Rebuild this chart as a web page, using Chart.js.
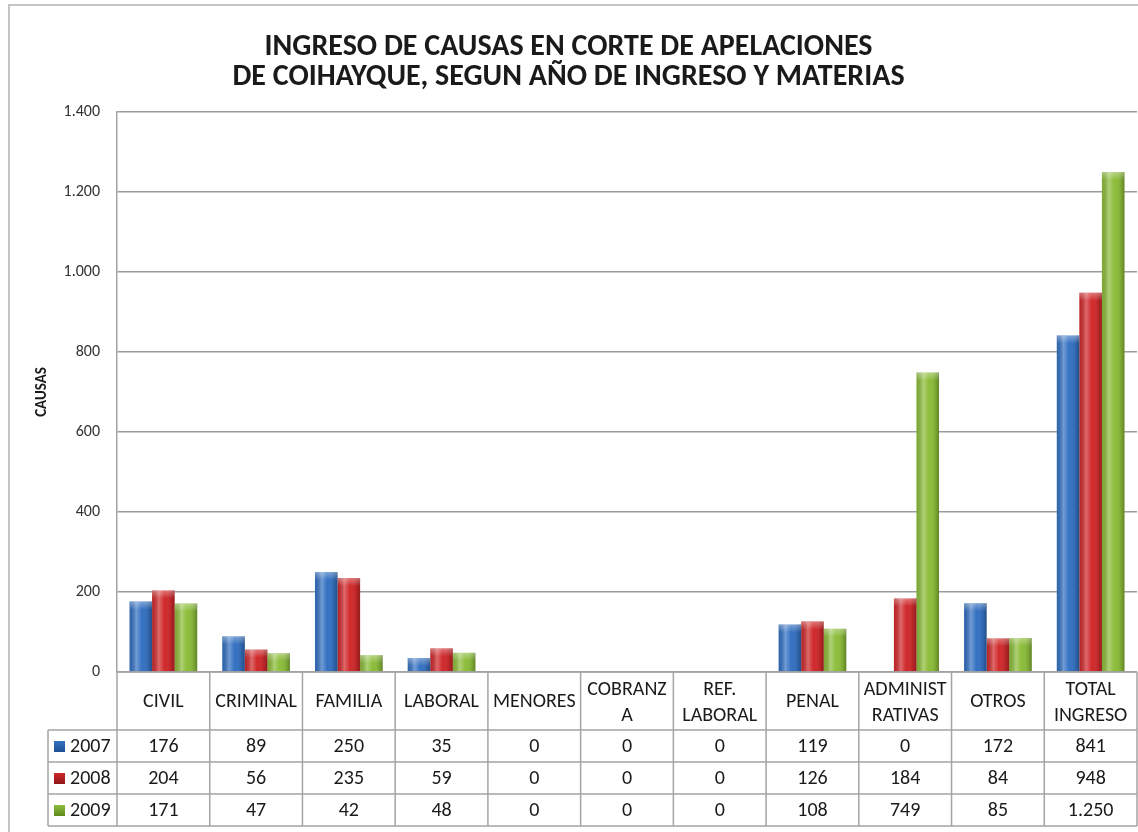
<!DOCTYPE html>
<html>
<head>
<meta charset="utf-8">
<script src="https://cdn.jsdelivr.net/npm/chart.js@4.4.0/dist/chart.umd.min.js"></script>
<style>
  html, body { margin: 0; padding: 0; background: #fff; }
  #wrap { width: 1138px; height: 832px; }
</style>
</head>
<body>
<div id="wrap"><canvas id="ingreso"></canvas></div>
<script>
// categorias (columnas de la tabla)
var materias = [["CIVIL"], ["CRIMINAL"], ["FAMILIA"], ["LABORAL"], ["MENORES"], ["COBRANZ", "A"],
                ["REF.", "LABORAL"], ["PENAL"], ["ADMINIST", "RATIVAS"], ["OTROS"], ["TOTAL", "INGRESO"]];
var anios = ["2007", "2008", "2009"];
var v2007 = [176, 89, 250, 35, 0, 0, 0, 119, 0, 172, 841];
var v2008 = [204, 56, 235, 59, 0, 0, 0, 126, 184, 84, 948];
var v2009 = [171, 47, 42, 48, 0, 0, 0, 108, 749, 85, 1250];
var yTicks = [0, 200, 400, 600, 800, 1000, 1200, 1400];

var colores = ["#3471c2", "#d0292b", "#8cbd3a"];
var oscuros = ["#1d4f91", "#8f1618", "#5f8a1f"];
var fuente = "Carlito, Calibri, Lato, 'Open Sans', sans-serif";

function miles(v) {
  return String(v).replace(/\B(?=(\d{3})+(?!\d))/g, ".");
}

// fondo y borde exterior
var fondo = {
  id: "fondo",
  beforeDraw: function(chart) {
    var c = chart.ctx;
    c.save();
    c.fillStyle = "#fff";
    c.fillRect(0, 0, chart.width, chart.height);
    c.strokeStyle = "#c4c4c4";
    c.lineWidth = 2;
    c.beginPath();
    c.moveTo(9, chart.height);
    c.lineTo(9, 5);
    c.lineTo(chart.width, 5);
    c.stroke();
    c.restore();
  }
};

// brillo tipo cilindro sobre cada barra
var brillo = {
  id: "brillo",
  afterDatasetsDraw: function(chart) {
    var c = chart.ctx;
    c.save();
    chart.data.datasets.forEach(function(ds, i) {
      var meta = chart.getDatasetMeta(i);
      meta.data.forEach(function(el) {
        var p = el.getProps(["x", "y", "base", "width"], true);
        var h = p.base - p.y;
        if (h < 1) return;
        var x0 = p.x - p.width / 2, x1 = p.x + p.width / 2;
        var g = c.createLinearGradient(x0, 0, x1, 0);
        g.addColorStop(0, "rgba(0,0,0,0.10)");
        g.addColorStop(0.3, "rgba(255,255,255,0.30)");
        g.addColorStop(0.55, "rgba(255,255,255,0.0)");
        g.addColorStop(0.85, "rgba(0,0,0,0.12)");
        g.addColorStop(1, "rgba(0,0,0,0.30)");
        c.fillStyle = g;
        c.fillRect(x0, p.y, p.width, h);
        // tapa superior
        var tg = c.createLinearGradient(0, p.y, 0, p.y + 8);
        tg.addColorStop(0, "rgba(255,255,255,0.35)");
        tg.addColorStop(1, "rgba(255,255,255,0)");
        c.fillStyle = tg;
        c.fillRect(x0, p.y, p.width, Math.min(8, h));
      });
    });
    c.restore();
  }
};

// tabla de datos bajo el eje
var tabla = {
  id: "tabla",
  afterDraw: function(chart) {
    var c = chart.ctx;
    var xs = chart.scales.x;
    var area = chart.chartArea;
    var n = materias.length;
    var w = (xs.right - xs.left) / n;
    var top = area.bottom;
    var headBottom = top + 58;
    var rowH = 32;
    var filas = [v2007, v2008, v2009];
    var bottom = headBottom + rowH * filas.length;
    var left0 = 48;

    c.save();
    c.strokeStyle = "#a4a4a4";
    c.lineWidth = 1.5;
    c.beginPath();
    // linea superior (eje)
    c.moveTo(xs.left, top); c.lineTo(xs.right, top);
    // lineas horizontales de filas
    for (var r = 0; r <= filas.length; r++) {
      var yy = headBottom + r * rowH;
      c.moveTo(left0, yy); c.lineTo(xs.right, yy);
    }
    // verticales
    for (var k = 0; k <= n; k++) {
      var xx = xs.left + k * w;
      c.moveTo(xx, top); c.lineTo(xx, bottom);
    }
    c.moveTo(left0, headBottom); c.lineTo(left0, bottom);
    c.stroke();

    c.fillStyle = "#1a1a1a";
    c.font = "20px " + fuente;
    c.textAlign = "center";
    c.textBaseline = "middle";
    // encabezados
    materias.forEach(function(lbl, i) {
      var cx = xs.getPixelForValue(i);
      var mid = (top + headBottom) / 2;
      if (lbl.length === 1) {
        c.fillText(lbl[0], cx, mid + 1);
      } else {
        c.fillText(lbl[0], cx, mid - 11);
        c.fillText(lbl[1], cx, mid + 15);
      }
    });
    // valores
    filas.forEach(function(fila, r) {
      var cy = headBottom + r * rowH + rowH / 2 + 1;
      fila.forEach(function(v, i) {
        c.fillText(miles(v), xs.getPixelForValue(i), cy);
      });
      // leyenda
      var sx = 54, sy = cy - 6;
      var g = c.createLinearGradient(sx, sy, sx, sy + 11);
      g.addColorStop(0, colores[r]);
      g.addColorStop(1, oscuros[r]);
      c.fillStyle = g;
      c.fillRect(sx, sy, 11, 11);
      c.fillStyle = "#1a1a1a";
      c.textAlign = "left";
      c.fillText(anios[r], 70, cy);
      c.textAlign = "center";
    });
    c.restore();
  }
};

var series = [v2007, v2008, v2009];
var datasets = series.map(function(vals, i) {
  return {
    label: anios[i],
    data: vals,
    backgroundColor: colores[i],
    borderWidth: 0,
    categoryPercentage: 0.73,
    barPercentage: 1.0
  };
});

new Chart(document.getElementById("ingreso"), {
  type: "bar",
  data: {
    labels: materias.map(function(m) { return m.join(" "); }),
    datasets: datasets
  },
  options: {
    responsive: true,
    maintainAspectRatio: false,
    animation: false,
    layout: { padding: { left: 0, right: 1, top: 0, bottom: 102 } },
    plugins: {
      legend: { display: false },
      tooltip: { enabled: false },
      title: {
        display: true,
        text: ["INGRESO DE CAUSAS EN CORTE DE APELACIONES", "DE COIHAYQUE, SEGUN AÑO DE INGRESO Y MATERIAS"],
        color: "#1a1a1a",
        font: { family: fuente, size: 30, weight: "bold", lineHeight: 1.0 },
        padding: { top: 32, bottom: 20 }
      }
    },
    scales: {
      x: {
        ticks: { display: false },
        grid: { display: false, drawTicks: false },
        border: { display: false },
        afterFit: function(scale) { scale.height = 58; }
      },
      y: {
        min: 0,
        max: 1400,
        afterBuildTicks: function(scale) {
          scale.ticks = yTicks.map(function(v) { return { value: v }; });
        },
        ticks: {
          color: "#333",
          font: { family: fuente, size: 16 },
          padding: 17,
          callback: function(v) { return miles(v); }
        },
        grid: { color: "#9c9c9c", lineWidth: 1.5, drawTicks: false },
        border: { display: true, color: "#a4a4a4", width: 1.5 },
        title: {
          display: true,
          text: "CAUSAS",
          color: "#1a1a1a",
          font: { family: fuente, size: 15, weight: "bold" },
          padding: { top: 33, bottom: 0 }
        },
        afterFit: function(scale) { scale.width = 117; }
      }
    }
  },
  plugins: [fondo, brillo, tabla]
});
</script>
</body>
</html>
